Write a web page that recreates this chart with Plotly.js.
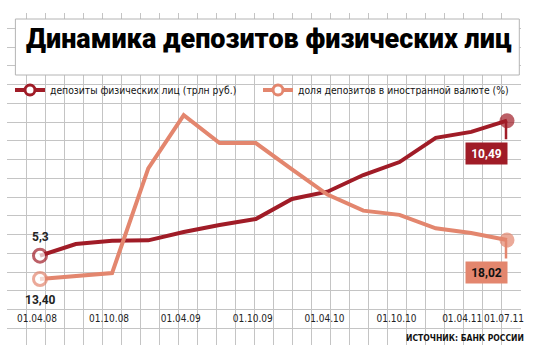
<!DOCTYPE html>
<html><head><meta charset="utf-8">
<script src="https://cdn.plot.ly/plotly-3.0.1.min.js"></script>
<style>html,body{margin:0;padding:0;background:#fff}#chart{width:533px;height:359px}</style>
</head><body><div id="chart"></div>
<script>
// ---- data ----
const dates = ['2008-04-01','2008-07-01','2008-10-01','2009-01-01','2009-04-01','2009-07-01','2009-10-01',
               '2010-01-01','2010-04-01','2010-07-01','2010-10-01','2011-01-01','2011-04-01','2011-07-01'];
const deposits = [5.30, 5.75, 5.87, 5.89, 6.21, 6.48, 6.71, 7.48, 7.76, 8.40, 8.90, 9.83, 10.06, 10.49];
const fxShare  = [13.40, 13.75, 14.10, 26.5, 32.8, 29.5, 29.5, 26.4, 23.4, 21.5, 21.0, 19.4, 18.85, 18.02];
const tickDates  = ['2008-04-01','2008-10-01','2009-04-01','2009-10-01','2010-04-01','2010-10-01','2011-04-01','2011-07-01'];
const tickLabels = ['01.04.08','01.10.08','01.04.09','01.10.09','01.04.10','01.10.10','01.04.11','01.07.11'];
const seriesNames = ['депозиты физических лиц (трлн руб.)', 'доля депозитов в иностранной валюте (%)'];
const titleText = 'Динамика депозитов физических лиц';
const sourceText = 'ИСТОЧНИК: БАНК РОССИИ';

// ---- helpers ----
const W = 533, H = 359;
const fx = p => p / W, fy = p => 1 - p / H;
const ms = d => Date.parse(d + 'T00:00:00Z');
const iso = m => new Date(m).toISOString().replace('T', ' ').replace('Z', '');
function lin(v1, p1, v2, p2, pa, pb) { const k = (v2 - v1) / (p2 - p1); return [v1 + (pa - p1) * k, v1 + (pb - p1) * k]; }
const fmt = (v, d) => v.toFixed(d).replace('.', ',');
const n = dates.length;

const RED = '#a01c27', ORANGE = '#e3866e', GRID = '#c4c4c4';
const NARROW = "'Liberation Sans Narrow', 'DejaVu Sans Condensed', 'Roboto', sans-serif";
const BOLD = "Roboto, 'Liberation Sans', sans-serif";

// plot geometry (pixels)
const gx0 = 6.5, gx1 = 520.5, gTop = 13.0, gBot = 345;
const xr = lin(ms(dates[0]), 40, ms(dates[n - 1]), 507, gx0, gx1).map(iso);
const yRed = lin(deposits[0], 255.7, deposits[n - 1], 120.7, gBot, gTop);
const yOr  = lin(fxShare[0], 279, fxShare[n - 1], 240, gBot, gTop);
const gridYr = [(gBot - 28.3) / 18.75, (gTop - 28.3) / 18.75];
const gridYticks = [(13.3 - 28.3) / 18.75]; for (let k = 0; k <= 16; k++) gridYticks.push(k);

// the crowded penultimate date label is drawn on its own overlay axis, nudged left as in the original
const crowded = tickLabels.length - 2;
const mainVals = tickDates.filter((_, i) => i !== crowded);
const mainText = tickLabels.filter((_, i) => i !== crowded);

function endMarkers(color, ringSize, dotSize) {
  return {
    size: dates.map((_, i) => i === 0 ? ringSize : (i === n - 1 ? dotSize : 0)),
    color: dates.map((_, i) => i === 0 ? '#ffffff' : color),
    line: { color: color, width: dates.map((_, i) => i === 0 ? 3 : 0) }
  };
}

const traces = [
  { x: dates, y: deposits, xaxis: 'x2', yaxis: 'y2', mode: 'lines+markers', showlegend: false, hoverinfo: 'skip',
    line: { color: RED, width: 4 }, marker: endMarkers(RED, 13, 15) },
  { x: dates, y: fxShare, xaxis: 'x2', yaxis: 'y3', mode: 'lines+markers', showlegend: false, hoverinfo: 'skip',
    line: { color: ORANGE, width: 4 }, marker: endMarkers(ORANGE, 13, 15) },
  { x: [null], y: [null], xaxis: 'x2', yaxis: 'y2', mode: 'lines+markers', name: seriesNames[0], legendwidth: 203,
    line: { color: RED, width: 4 }, marker: { size: 10, color: '#fff', line: { color: RED, width: 3 } } },
  { x: [null], y: [null], xaxis: 'x2', yaxis: 'y3', mode: 'lines+markers', name: seriesNames[1], legendwidth: 230,
    line: { color: ORANGE, width: 4 }, marker: { size: 10, color: '#fff', line: { color: ORANGE, width: 3 } } },
  { x: [null], y: [null], xaxis: 'x', yaxis: 'y', showlegend: false, hoverinfo: 'skip', mode: 'markers' },
  { x: [null], y: [null], xaxis: 'x3', yaxis: 'y2', showlegend: false, hoverinfo: 'skip', mode: 'markers' }
];

const hidden = { showgrid: false, zeroline: false, showline: false, showticklabels: false, ticks: '', fixedrange: true };
const tickAxis = (vals, text, shift) => Object.assign({}, hidden, {
  overlaying: 'x', type: 'date', range: xr, anchor: 'free', position: fy(311),
  showticklabels: true, tickmode: 'array', tickvals: vals, ticktext: text, tickangle: 0,
  ticklabelshift: shift, tickfont: { family: NARROW, size: 10, color: '#222' } });

const layout = {
  width: W, height: H, margin: { l: 0, r: 0, t: 0, b: 0 },
  paper_bgcolor: '#ffffff', plot_bgcolor: 'rgba(0,0,0,0)',
  xaxis: { domain: [fx(gx0), fx(gx1)], range: [-0.5 / 19, 27 + 0.5 / 19], dtick: 1, tick0: 0,
           showgrid: true, gridcolor: GRID, gridwidth: 1, zeroline: false, showline: false,
           showticklabels: false, ticks: '', fixedrange: true },
  yaxis: { domain: [fy(gBot), fy(gTop)], range: gridYr, tickmode: 'array', tickvals: gridYticks,
           showgrid: true, gridcolor: GRID, gridwidth: 1, zeroline: false, showline: false,
           showticklabels: false, ticks: '', fixedrange: true },
  xaxis2: tickAxis(mainVals, mainText, -3),
  xaxis3: tickAxis([tickDates[crowded]], [tickLabels[crowded]], -9),
  yaxis2: Object.assign({}, hidden, { overlaying: 'y', range: yRed }),
  yaxis3: Object.assign({}, hidden, { overlaying: 'y', range: yOr }),
  legend: { orientation: 'h', x: fx(10), y: fy(90), xanchor: 'left', yanchor: 'middle',
            bgcolor: 'rgba(0,0,0,0)', font: { family: NARROW, size: 10.3, color: '#111' },
            entrywidthmode: 'pixels', traceorder: 'normal' },
  shapes: [
    { type: 'rect', xref: 'paper', yref: 'paper', x0: fx(15.4), x1: fx(519.3), y0: fy(75), y1: fy(19),
      fillcolor: '#ffffff', line: { color: '#b4b4b4', width: 1 }, layer: 'above' }
  ],
  annotations: [
    { xref: 'paper', yref: 'paper', x: fx(269), y: fy(39), xanchor: 'center', yanchor: 'middle', showarrow: false,
      text: titleText, font: { family: BOLD, size: 27, weight: 900, color: '#000' } },
    { xref: 'paper', yref: 'paper', x: fx(526), y: fy(338), xanchor: 'right', yanchor: 'middle', showarrow: false,
      text: sourceText, font: { family: NARROW, size: 8.5, weight: 700, color: '#111' } },
    { xref: 'x2', yref: 'y2', x: dates[0], y: deposits[0], yshift: 19, showarrow: false,
      text: fmt(deposits[0], 1), font: { family: BOLD, size: 12, weight: 700, color: '#222' } },
    { xref: 'x2', yref: 'y3', x: dates[0], y: fxShare[0], yshift: -21, showarrow: false,
      text: fmt(fxShare[0], 2), font: { family: BOLD, size: 12, weight: 700, color: '#222' } },
    { xref: 'x2', yref: 'y2', x: dates[n - 1], y: deposits[n - 1], showarrow: true, text: '', arrowhead: 0,
      arrowwidth: 2.5, arrowcolor: RED, ax: 0, ay: 20, xshift: -1 },
    { xref: 'x2', yref: 'y2', x: dates[n - 1], y: deposits[n - 1], xanchor: 'right', yanchor: 'top', yshift: -21, xshift: 1,
      showarrow: false, text: fmt(deposits[n - 1], 2), bgcolor: RED, width: 41, height: 21, borderpad: 0,
      font: { family: BOLD, size: 12, weight: 700, color: '#fff' } },
    { xref: 'x2', yref: 'y3', x: dates[n - 1], y: fxShare[n - 1], showarrow: true, text: '', arrowhead: 0,
      arrowwidth: 2.5, arrowcolor: ORANGE, ax: 0, ay: 20, xshift: -1 },
    { xref: 'x2', yref: 'y3', x: dates[n - 1], y: fxShare[n - 1], xanchor: 'right', yanchor: 'top', yshift: -21, xshift: 1,
      showarrow: false, text: fmt(fxShare[n - 1], 2), bgcolor: ORANGE, width: 41, height: 21, borderpad: 0,
      font: { family: BOLD, size: 12, weight: 700, color: '#111' } }
  ]
};

Plotly.newPlot('chart', traces, layout, { staticPlot: true, displayModeBar: false });
</script>
</body></html>
